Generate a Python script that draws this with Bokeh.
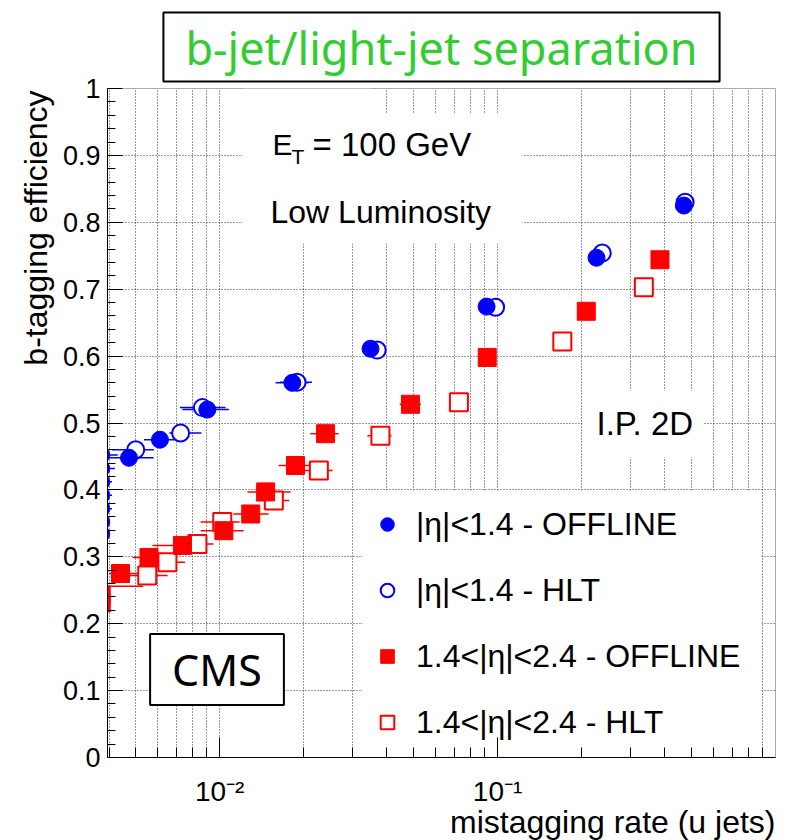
import numpy as np
from bokeh.plotting import figure
from bokeh.models import (Range1d, FixedTicker, Label, BoxAnnotation, Legend, LegendItem, Title)
from bokeh.embed import file_html
from bokeh.resources import INLINE

# ---------------- data ----------------
# |eta|<1.4 OFFLINE (filled blue circles)
blue_offline_x = [0.00472, 0.0061, 0.00903, 0.01826, 0.0349, 0.0913, 0.227, 0.468]
blue_offline_y = [0.448, 0.475, 0.520, 0.560, 0.611, 0.674, 0.747, 0.825]
blue_offline_xlo = [0.0039, 0.00534, 0.00734, 0.0159, 0.0335, 0.0913, 0.227, 0.468]
blue_offline_xhi = [0.00579, 0.00705, 0.0108, 0.0209, 0.0365, 0.0913, 0.227, 0.468]

# |eta|<1.4 HLT (open blue circles)
blue_hlt_x = [0.00499, 0.00724, 0.00867, 0.0190, 0.0369, 0.0984, 0.238, 0.473]
blue_hlt_y = [0.460, 0.485, 0.523, 0.561, 0.609, 0.673, 0.754, 0.830]
blue_hlt_xlo = [0.0041, 0.0066, 0.0072, 0.0165, 0.0355, 0.0984, 0.238, 0.473]
blue_hlt_xhi = [0.0058, 0.0086, 0.0105, 0.0215, 0.0385, 0.0984, 0.238, 0.473]

# 1.4<|eta|<2.4 OFFLINE (filled red squares)
red_offline_x = [0.0044, 0.00557, 0.00735, 0.01036, 0.01294, 0.01464, 0.01875, 0.02405, 0.0486, 0.0918, 0.2085, 0.384]
red_offline_y = [0.275, 0.299, 0.317, 0.339, 0.364, 0.397, 0.4365, 0.484, 0.528, 0.598, 0.667, 0.744]
red_offline_xlo = [0.0040, 0.00486, 0.00573, 0.00855, 0.0112, 0.0126, 0.0163, 0.0212, 0.0445, 0.0918, 0.2085, 0.384]
red_offline_xhi = [0.00565, 0.00676, 0.00876, 0.0122, 0.0150, 0.0180, 0.0218, 0.0268, 0.0530, 0.0918, 0.2085, 0.384]

# 1.4<|eta|<2.4 HLT (open red squares)
red_hlt_x = [0.00549, 0.00649, 0.00832, 0.01022, 0.01567, 0.02275, 0.0379, 0.0726, 0.171, 0.336]
red_hlt_y = [0.272, 0.292, 0.319, 0.352, 0.384, 0.429, 0.481, 0.531, 0.622, 0.703]
red_hlt_xlo = [0.0047, 0.0057, 0.0073, 0.00855, 0.0135, 0.0195, 0.0340, 0.0726, 0.171, 0.336]
red_hlt_xhi = [0.0065, 0.0075, 0.0095, 0.0118, 0.0178, 0.0255, 0.0415, 0.0726, 0.171, 0.336]

# points lying just left of the axis range (only slivers / error bars visible)
blue_edge_x = [0.00375, 0.00375, 0.00375, 0.00375, 0.00375, 0.00375, 0.00375]
blue_edge_y = [0.452, 0.432, 0.412, 0.392, 0.372, 0.352, 0.334]
blue_edge_xhi = [0.0043, 0.0042, 0.0041, 0.0041, 0.0041, 0.0040, 0.0040]
red_edge_x = [0.0036, 0.00375, 0.00375]
red_edge_y = [0.256, 0.243, 0.231]
red_edge_xhi = [0.0053, 0.0040, 0.0040]

# ticks
x_major = [0.01, 0.1]
x_minor = [0.004, 0.005, 0.006, 0.007, 0.008, 0.009,
           0.02, 0.03, 0.04, 0.05, 0.06, 0.07, 0.08, 0.09,
           0.2, 0.3, 0.4, 0.5, 0.6, 0.7, 0.8, 0.9]
x_tick_labels = ["10⁻²", "10⁻¹"]
y_ticks = [0, 0.1, 0.2, 0.3, 0.4, 0.5, 0.6, 0.7, 0.8, 0.9, 1]
y_tick_labels = ["0", "0.1", "0.2", "0.3", "0.4", "0.5", "0.6", "0.7", "0.8", "0.9", "1"]
y_minor = [round(v, 2) for v in np.arange(0, 1.0001, 0.02)]

legend_labels = ["|η|<1.4 - OFFLINE", "|η|<1.4 - HLT",
                 "1.4<|η|<2.4 - OFFLINE", "1.4<|η|<2.4 - HLT"]

FONT = "Liberation Sans"
BLUE = "#0000ff"
RED = "#ff0000"
GRID = "#333333"

# ---------------- figure ----------------
p = figure(x_axis_type="log", x_range=Range1d(0.00395, 1.0), y_range=Range1d(0, 1),
           frame_width=668, frame_height=669,
           min_border_left=107, min_border_right=12, min_border_top=88, min_border_bottom=83,
           output_backend="svg", toolbar_location=None, title=None)
p.background_fill_color = "white"
p.border_fill_color = "white"
p.outline_line_color = "#aaaaaa"
p.outline_line_width = 1

# title box
title = Title(text="b-jet/light-jet separation", align="center", text_font="Noto Sans",
              text_font_size="45px", text_color="#33cc33", text_font_style="normal",
              standoff=14, offset=0)
tprops = Title.properties()
if "background_fill_color" in tprops:
    title.background_fill_color = "white"
if "border_line_color" in tprops:
    title.border_line_color = "black"
    title.border_line_width = 2
if "padding" in tprops:
    title.padding = (22, 4)
p.add_layout(title, "above")

# axes
p.xaxis.ticker = FixedTicker(ticks=x_major, minor_ticks=x_minor)
p.yaxis.ticker = FixedTicker(ticks=y_ticks, minor_ticks=y_minor)
p.xaxis.major_label_overrides = dict(zip(x_major, x_tick_labels))
p.yaxis.major_label_overrides = dict(zip(y_ticks, y_tick_labels))
for ax in (p.xaxis[0], p.yaxis[0]):
    ax.axis_line_color = "black"
    ax.axis_line_width = 1
    ax.major_tick_line_color = "black"
    ax.minor_tick_line_color = "black"
    ax.major_tick_out = 0
    ax.minor_tick_out = 0
    ax.major_label_text_font = FONT
    ax.major_label_text_color = "black"
p.xaxis.major_tick_in = 20
p.xaxis.minor_tick_in = 10
p.yaxis.major_tick_in = 15
p.yaxis.minor_tick_in = 8
p.yaxis.major_label_text_font_size = "27px"
p.yaxis.major_label_standoff = 7
p.xaxis.major_label_text_font_size = "28px"
p.xaxis.major_label_standoff = 18

# axis titles (ROOT style: aligned to the far end of each axis)
ytitle = Title(text="b-tagging efficiency", align="right", text_font=FONT, text_font_size="32px",
               text_font_style="normal", text_color="black", standoff=12, offset=2)
p.add_layout(ytitle, "left")
xtitle = Title(text="mistagging rate (u jets)", align="right", text_font=FONT, text_font_size="32px",
               text_font_style="normal", text_color="black", standoff=-12, offset=0,
               vertical_align="top")
p.add_layout(xtitle, "below")

# grid
for g in (p.xgrid[0], p.ygrid[0]):
    g.grid_line_color = GRID
    g.grid_line_dash = "1 2"
    g.grid_line_width = 1
p.xgrid.minor_grid_line_color = GRID
p.xgrid.minor_grid_line_dash = "1 2"
p.xgrid.minor_grid_line_width = 1

# white panels (text boxes hide the grid)
for (l, r, b, t) in [(135, 415, 514, 644), (135, 263, 644, 669), (475, 596, 300, 367), (255, 654, 0, 267)]:
    p.add_layout(BoxAnnotation(left=l, right=r, bottom=b, top=t,
                               left_units="screen", right_units="screen",
                               bottom_units="screen", top_units="screen",
                               fill_color="white", fill_alpha=1, line_color=None,
                               level="underlay"))

# error bars
p.segment(x0=blue_edge_x, x1=blue_edge_xhi, y0=blue_edge_y, y1=blue_edge_y, line_color=BLUE, line_width=1.5)
p.segment(x0=red_edge_x, x1=red_edge_xhi, y0=red_edge_y, y1=red_edge_y, line_color=RED, line_width=1.5)
p.segment(x0=blue_offline_xlo, x1=blue_offline_xhi, y0=blue_offline_y, y1=blue_offline_y, line_color=BLUE, line_width=1.5)
p.segment(x0=blue_hlt_xlo, x1=blue_hlt_xhi, y0=blue_hlt_y, y1=blue_hlt_y, line_color=BLUE, line_width=1.5)
p.segment(x0=red_offline_xlo, x1=red_offline_xhi, y0=red_offline_y, y1=red_offline_y, line_color=RED, line_width=1.5)
p.segment(x0=red_hlt_xlo, x1=red_hlt_xhi, y0=red_hlt_y, y1=red_hlt_y, line_color=RED, line_width=1.5)

# markers
p.scatter(blue_edge_x, blue_edge_y, marker="circle", size=17, fill_color=BLUE, line_color=BLUE)
p.scatter(red_edge_x, red_edge_y, marker="square", size=18, fill_color=RED, line_color=RED)
r_bh = p.scatter(blue_hlt_x, blue_hlt_y, marker="circle", size=17, fill_color="white",
                 line_color=BLUE, line_width=2)
r_rh = p.scatter(red_hlt_x, red_hlt_y, marker="square", size=18, fill_color="white",
                 line_color=RED, line_width=2)
r_bo = p.scatter(blue_offline_x, blue_offline_y, marker="circle", size=17, fill_color=BLUE, line_color=BLUE)
r_ro = p.scatter(red_offline_x, red_offline_y, marker="square", size=18, fill_color=RED, line_color=RED)

legend = Legend(items=[LegendItem(label=legend_labels[0], renderers=[r_bo]),
                       LegendItem(label=legend_labels[1], renderers=[r_bh]),
                       LegendItem(label=legend_labels[2], renderers=[r_ro]),
                       LegendItem(label=legend_labels[3], renderers=[r_rh])],
                location=(255, 0), orientation="vertical", padding=8, spacing=12, margin=0,
                glyph_width=34, glyph_height=54, label_height=54, label_standoff=12,
                label_text_font=FONT, label_text_font_size="32px", label_text_color="black",
                border_line_alpha=0, background_fill_alpha=0)
p.add_layout(legend)

# texts inside the frame
def lab(**kw):
    base = dict(x_units="screen", y_units="screen", text_font=FONT, text_color="black")
    base.update(kw)
    p.add_layout(Label(**base))

lab(x=109.5, y=88, text="CMS", text_font="Noto Sans", text_font_size="43px",
    text_align="center", text_baseline="middle",
    background_fill_color="white", border_line_color="black", border_line_width=2, padding=(22, 6))
lab(x=165, y=613, text="E", text_font_size="30px", text_baseline="alphabetic")
lab(x=184, y=601, text="T", text_font_size="21px", text_baseline="alphabetic")
lab(x=205, y=613, text="= 100 GeV", text_font_size="33px", text_baseline="alphabetic")
lab(x=163, y=546, text="Low Luminosity", text_font_size="32px", text_baseline="alphabetic")
lab(x=489, y=334, text="I.P. 2D", text_font_size="33px", text_baseline="alphabetic")

open("out.html", "w").write(file_html(p, INLINE))
